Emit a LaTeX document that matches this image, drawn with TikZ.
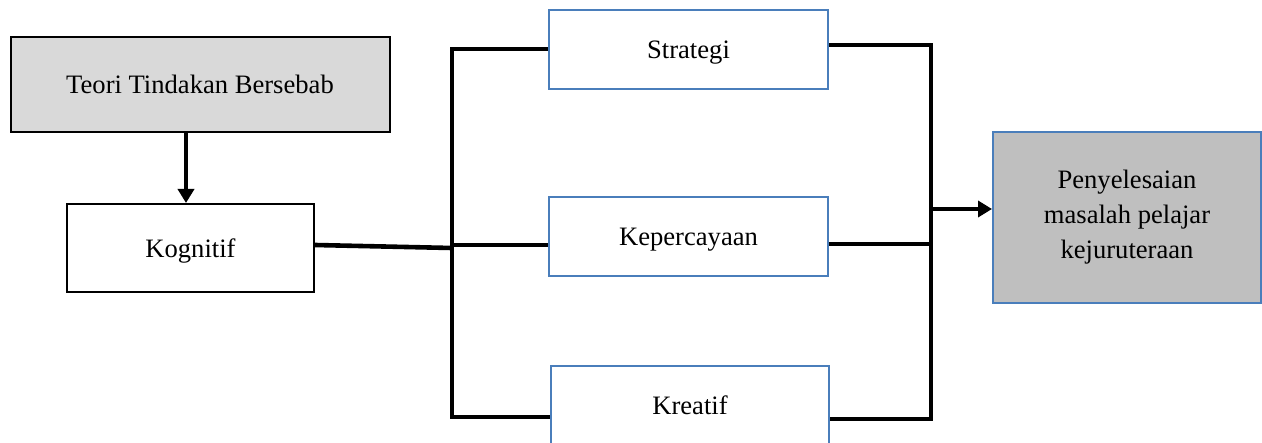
\documentclass[tikz,border=0pt]{standalone}
\usepackage{fontspec}
\setmainfont{Liberation Serif}
\usetikzlibrary{arrows.meta,calc}
\definecolor{boxblue}{RGB}{74,126,187}
\definecolor{lightgrey}{RGB}{217,217,217}
\definecolor{midgrey}{RGB}{191,191,191}
\tikzset{
  px/.style={x=0.5pt,y=-0.5pt},
  box/.style={draw=black,line width=1pt,rectangle,inner sep=0pt,align=center,
    font=\fontsize{13.3}{17.5}\selectfont},
  oneline/.style={text depth=0pt},
  bluebox/.style={box,draw=boxblue},
  conn/.style={line width=2.3pt,line cap=butt,line join=miter},
  arr/.style={conn,-{Triangle[width=8pt,length=7pt]}}
}
\begin{document}
\begin{tikzpicture}[px]
\useasboundingbox (0,0) rectangle (1262,443);
\node[box,oneline,fill=lightgrey,minimum width=189.5pt,minimum height=47.5pt] (teori) at (200,84.5) {Teori Tindakan Bersebab};
\node[box,oneline,fill=white,minimum width=123.5pt,minimum height=44pt] (kog) at (190.5,248) {Kognitif};
\node[bluebox,oneline,fill=white,minimum width=139.5pt,minimum height=39.5pt] (strat) at (688.5,49.5) {Strategi};
\node[bluebox,oneline,fill=white,minimum width=139.5pt,minimum height=39.5pt] (kep) at (688.5,236.5) {Kepercayaan};
\node[bluebox,oneline,fill=white,minimum width=139pt,minimum height=39.5pt] (krea) at (690,405.5) {Kreatif};
\node[bluebox,fill=midgrey,minimum width=134pt,minimum height=85.5pt] (peny) at (1127,217.5) {Penyelesaian\\masalah pelajar\\kejuruteraan};
% coordinates
\coordinate (ax) at (186,0);
\coordinate (lt) at (452,49);
\coordinate (lb) at (452,417);
\coordinate (lk) at (452,245);
\coordinate (lg) at (452,248);
\coordinate (rt) at (931,45);
\coordinate (rb) at (931,419);
\coordinate (rk) at (931,244);
\coordinate (ra) at (931,209);
% connectors
\draw[arr] (teori.south -| ax) -- (kog.north -| ax);
\draw[conn] (strat.west |- lt) -- (lt) -- (lb) -- (krea.west |- lb);
\draw[conn] (lk) -- (kep.west |- lk);
\draw[conn] ($(kog.east)+(0,-3)$) -- (lg);
\draw[conn] (strat.east |- rt) -- (rt) -- (rb) -- (krea.east |- rb);
\draw[conn] (kep.east |- rk) -- (rk);
\draw[arr] (ra) -- (peny.west |- ra);
\end{tikzpicture}
\end{document}
